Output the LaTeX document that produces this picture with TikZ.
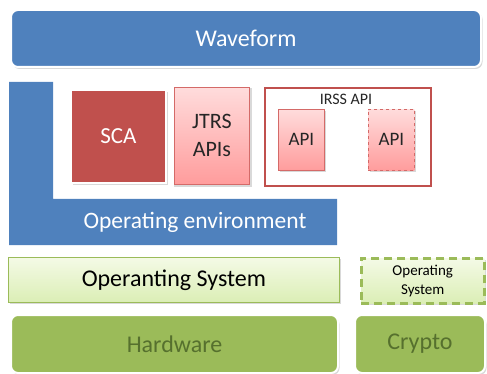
\documentclass[tikz,border=0pt]{standalone}
\usepackage{fontspec}
\setmainfont{Carlito}
\usetikzlibrary{shadows}
\definecolor{wblue}{HTML}{4F81BD}
\definecolor{sred}{HTML}{C0504D}
\definecolor{pinktop}{HTML}{FFDCDC}
\definecolor{pinkbot}{HTML}{FF9C9C}
\definecolor{pinkline}{HTML}{D46A68}
\definecolor{hwgreen}{HTML}{9BBB59}
\definecolor{hwtext}{HTML}{56702E}
\definecolor{ostop}{HTML}{F4FAE6}
\definecolor{osbot}{HTML}{DBEEB5}
\tikzset{
  box/.style={anchor=north west, inner sep=0pt, align=center},
  shade/.style={drop shadow={opacity=0.3, shadow xshift=1.5pt, shadow yshift=-2pt}},
  bluebar/.style={box, fill=wblue, draw=white, line width=2pt, rounded corners=7pt,
    shade, text=white, font=\fontsize{24}{26}\selectfont},
  redblock/.style={box, fill=sred, draw=white, line width=2pt, shade,
    text=white, font=\fontsize{23}{26}\selectfont},
  pinkblock/.style={box, top color=pinktop, bottom color=pinkbot, draw=pinkline,
    line width=0.8pt, text=black!85},
  greenbar/.style={box, top color=ostop, bottom color=osbot, draw=hwgreen,
    line width=0.8pt, text=black, shade},
  hwbar/.style={box, fill=hwgreen, draw=white, line width=2pt, rounded corners=7pt,
    shade, text=hwtext, font=\fontsize{24}{26}\selectfont},
}
\begin{document}
\begin{tikzpicture}[x=1pt, y=-1pt]
  \useasboundingbox (0,0) rectangle (487,374);

  % top layer
  \node[bluebar, minimum width=470pt, minimum height=57pt] (wave) at (10,9) {Waveform};

  % L-shaped operating environment
  \fill[wblue] (9,82) -- (53,82) -- (53,199) -- (337,199) -- (337,245) -- (9,245) -- cycle;
  \node[text=white, font=\fontsize{23.5}{26}\selectfont] (openv) at (195,222) {Operating environment};

  % SCA and APIs
  \node[redblock, minimum width=95pt, minimum height=93pt] (sca) at (70,89) {SCA};
  \fill[white, shade] (172,86) rectangle (250,185);
  \node[pinkblock, minimum width=75pt, minimum height=97pt,
        font=\fontsize{22}{28}\selectfont] (jtrs) at (174,87) {JTRS\\APIs};

  \node[box, draw=sred, line width=2pt, fill=white, minimum width=166pt,
        minimum height=98pt] (irss) at (264,87) {};
  \node[font=\fontsize{16}{18}\selectfont, text=black!85] (irsslbl) at (346,99) {IRSS API};
  \node[pinkblock, shade, minimum width=46pt, minimum height=61pt,
        font=\fontsize{19}{21}\selectfont] (api1) at (278,109) {API};
  \node[pinkblock, shade, dashed, minimum width=46pt, minimum height=61pt,
        font=\fontsize{19}{21}\selectfont] (api2) at (368,109) {API};

  % operating systems
  \node[greenbar, minimum width=331pt, minimum height=45pt,
        font=\fontsize{24}{26}\selectfont] (os) at (8,257) {Operanting System};
  \node[greenbar, line width=2.5pt, dash pattern=on 8pt off 5pt,
        minimum width=123pt, minimum height=45pt,
        font=\fontsize{15}{19}\selectfont] (os2) at (360,257) {Operating\\System};

  % hardware
  \node[hwbar, minimum width=327pt, minimum height=58pt] (hw) at (10,314) {Hardware};
  \node[hwbar, minimum width=130pt, minimum height=58pt] (crypto) at (354,314) {Crypto};
\end{tikzpicture}
\end{document}
